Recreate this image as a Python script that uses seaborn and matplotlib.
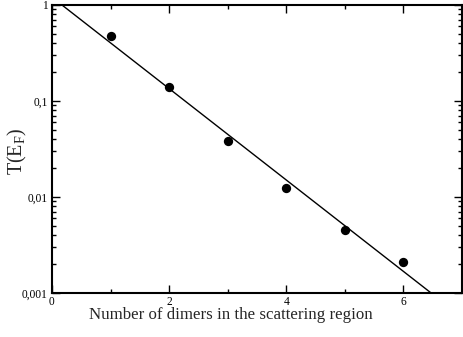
import numpy as np
import pandas as pd
import matplotlib
matplotlib.use("Agg")
import matplotlib.pyplot as plt
from matplotlib.ticker import FixedLocator, LogLocator, FuncFormatter, MultipleLocator, NullFormatter
import seaborn as sns

# Transmission at the Fermi level vs. number of dimers
n_dimers = [1, 2, 3, 4, 5, 6]
transmission = [0.475, 0.140, 0.0383, 0.0124, 0.00453, 0.0021]

# Exponential fit: log10 T = fit_intercept + fit_slope * N
fit_intercept = 0.081
fit_slope = -0.476
fit_x = [0, 7]

sns.set_style("ticks")
plt.rcParams["font.family"] = ["Liberation Serif", "DejaVu Serif"]
plt.rcParams["mathtext.fontset"] = "custom"
plt.rcParams["mathtext.rm"] = "Liberation Serif"

fig = plt.figure(figsize=(4.63, 3.37), dpi=100)
ax = fig.add_axes([0.1123, 0.1306, 0.8855, 0.8546])

df = pd.DataFrame({"N": n_dimers, "T": transmission})
fx = np.array(fit_x, dtype=float)
fit_df = pd.DataFrame({"N": fx, "T": 10 ** (fit_intercept + fit_slope * fx)})

sns.lineplot(data=fit_df, x="N", y="T", ax=ax, color="black", linewidth=1.0)
sns.scatterplot(data=df, x="N", y="T", ax=ax, color="black", s=45,
                edgecolor="black", linewidth=0, zorder=3)

ax.set_yscale("log")
ax.set_xlim(0, 7)
ax.set_ylim(0.001, 1)

ax.xaxis.set_major_locator(FixedLocator([0, 2, 4, 6]))
ax.xaxis.set_minor_locator(MultipleLocator(1))
ax.yaxis.set_major_locator(FixedLocator([0.001, 0.01, 0.1, 1]))
ax.yaxis.set_minor_locator(LogLocator(base=10, subs=np.arange(2, 10), numticks=20))
ax.yaxis.set_minor_formatter(NullFormatter())

def comma_fmt(v, pos):
    if v >= 1:
        return "1"
    s = f"{v:.3f}".rstrip("0")
    return s.replace(".", ",")

ax.yaxis.set_major_formatter(FuncFormatter(comma_fmt))
ax.xaxis.set_major_formatter(FuncFormatter(lambda v, p: f"{int(v)}"))

ax.tick_params(which="both", direction="in", top=True, right=True,
               labelsize=8.3, width=1.0, colors="black")
ax.tick_params(axis="y", pad=3)
ax.tick_params(axis="x", pad=2)
ax.tick_params(which="major", length=6)
ax.tick_params(which="minor", length=3)
for sp in ax.spines.values():
    sp.set_visible(True)
    sp.set_linewidth(1.5)
    sp.set_color("black")

ax.set_xlabel("Number of dimers in the scattering region", fontsize=12.2)
ax.xaxis.set_label_coords(0.4366, -0.076)
ax.xaxis.label.set_va("center")
ax.set_ylabel(r"T(E$_\mathregular{F}$)", fontsize=14.5)
ax.yaxis.set_label_coords(-0.083, 0.493)
ax.yaxis.label.set_va("center")

fig.savefig("out.png", dpi=100)
